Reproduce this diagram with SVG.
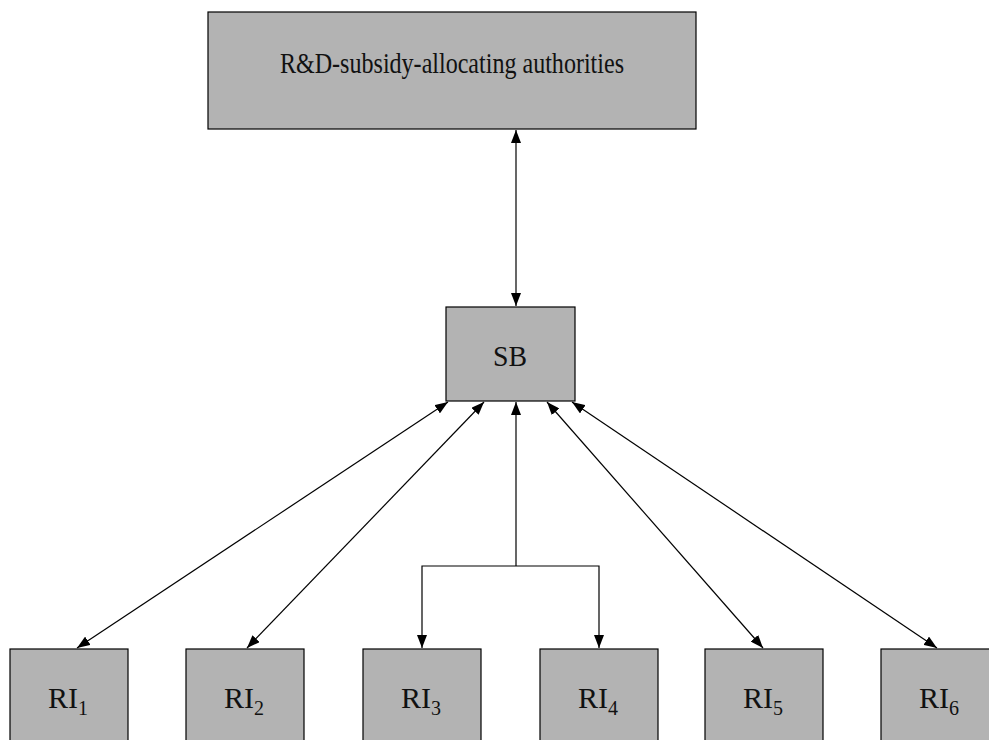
<svg xmlns="http://www.w3.org/2000/svg" width="989" height="740" viewBox="0 0 989 740">
<style>
.box{fill:#b3b3b3;stroke:#000;stroke-width:1.2}
.t{font-family:"Liberation Serif","Times New Roman",serif;fill:#111;text-anchor:middle;font-size:30px}
.s{font-size:20px}
.c{fill:none;stroke:#000;stroke-width:1.2}
</style>
<defs>
<marker id="ah" viewBox="0 0 13 10" refX="13" refY="5" markerWidth="13" markerHeight="10" markerUnits="userSpaceOnUse" orient="auto-start-reverse">
<path d="M0,0 L13,5 L0,10 z" fill="#000"/>
</marker>
</defs>
<rect width="989" height="740" fill="#fff"/>
<g id="connectors">
<line class="c" x1="516" y1="130" x2="516" y2="306" marker-start="url(#ah)" marker-end="url(#ah)"/>
<line class="c" x1="448" y1="402" x2="77" y2="648" marker-start="url(#ah)" marker-end="url(#ah)"/>
<line class="c" x1="484" y1="402" x2="247" y2="648" marker-start="url(#ah)" marker-end="url(#ah)"/>
<line class="c" x1="547" y1="402" x2="763" y2="648" marker-start="url(#ah)" marker-end="url(#ah)"/>
<line class="c" x1="572" y1="402" x2="937" y2="648" marker-start="url(#ah)" marker-end="url(#ah)"/>
<line class="c" x1="516" y1="566" x2="516" y2="402" marker-end="url(#ah)"/>
<polyline class="c" points="516,566 422,566 422,648" marker-end="url(#ah)"/>
<polyline class="c" points="516,566 599,566 599,648" marker-end="url(#ah)"/>
</g>
<g id="authorities">
<rect class="box" x="208" y="12" width="488" height="117"/>
<text class="t" x="452" y="73" textLength="344" lengthAdjust="spacingAndGlyphs">R&amp;D-subsidy-allocating authorities</text>
</g>
<g id="SB">
<rect class="box" x="446" y="307" width="129" height="94"/>
<text class="t" x="510" y="366" textLength="34" lengthAdjust="spacingAndGlyphs">SB</text>
</g>
<g id="RI1">
<rect class="box" x="10" y="649" width="118" height="100"/>
<text class="t" x="68" y="708">RI<tspan class="s" dy="7">1</tspan></text>
</g>
<g id="RI2">
<rect class="box" x="186" y="649" width="118" height="100"/>
<text class="t" x="244" y="708">RI<tspan class="s" dy="7">2</tspan></text>
</g>
<g id="RI3">
<rect class="box" x="363" y="649" width="118" height="100"/>
<text class="t" x="421" y="708">RI<tspan class="s" dy="7">3</tspan></text>
</g>
<g id="RI4">
<rect class="box" x="540" y="649" width="118" height="100"/>
<text class="t" x="598" y="708">RI<tspan class="s" dy="7">4</tspan></text>
</g>
<g id="RI5">
<rect class="box" x="705" y="649" width="118" height="100"/>
<text class="t" x="763" y="708">RI<tspan class="s" dy="7">5</tspan></text>
</g>
<g id="RI6">
<rect class="box" x="881" y="649" width="118" height="100"/>
<text class="t" x="939" y="708">RI<tspan class="s" dy="7">6</tspan></text>
</g>
</svg>
